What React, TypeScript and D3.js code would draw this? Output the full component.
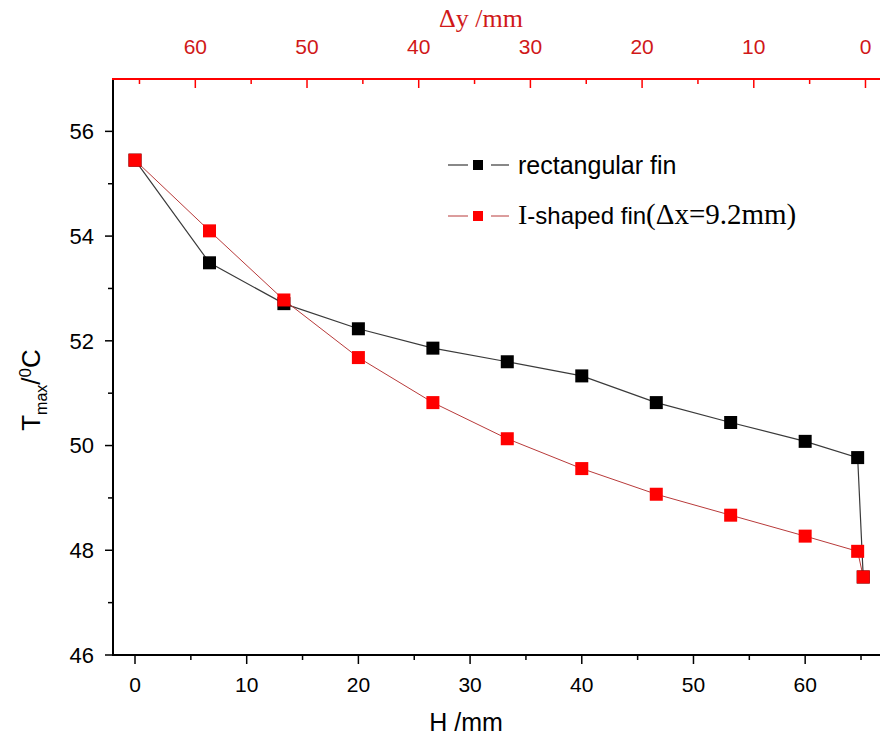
import React from "react";
import * as d3 from "d3";

const hValues = [0, 6.67, 13.33, 20, 26.67, 33.33, 40, 46.67, 53.33, 60, 64.7, 65.2];
const rectFin = [55.45, 53.49, 52.71, 52.23, 51.86, 51.6, 51.33, 50.82, 50.44, 50.08, 49.77, 47.49];
const iFin = [55.45, 54.1, 52.78, 51.68, 50.82, 50.13, 49.56, 49.07, 48.67, 48.27, 47.98, 47.49];
const bottomTicks = [0, 10, 20, 30, 40, 50, 60];
const bottomMinor = [5, 15, 25, 35, 45, 55, 65];
const topTicks = [60, 50, 40, 30, 20, 10, 0];
const topMinor = [65, 55, 45, 35, 25, 15, 5];
const leftTicks = [46, 48, 50, 52, 54, 56];
const leftMinor = [47, 49, 51, 53, 55];
const H_TOTAL = 65.4;

const W = 880, HGT = 740;
const L = 113, R = 880, T = 79, B = 655;

export default function App() {
  const x = d3.scaleLinear().domain([-1.97, 66.7]).range([L, R]);
  const xt = d3.scaleLinear().domain([H_TOTAL + 1.97, H_TOTAL - 66.7]).range([L, R]);
  const y = d3.scaleLinear().domain([46, 57]).range([B, T]);
  const line = d3.line<number>().x((_, i) => x(hValues[i])).y((d) => y(d));
  const ms = 13;
  const lms = 10;
  const sans = "'Liberation Sans', Arial, sans-serif";
  const serif = "'Liberation Serif', 'Times New Roman', serif";
  const red = "#ff0000";
  const redText = "#d01818";
  return (
    <svg width={W} height={HGT} style={{ position: "absolute", left: 0, top: 0, background: "#fff" }}>
      <rect width={W} height={HGT} fill="#fff" />
      {/* lines */}
      <path d={line(rectFin) || ""} fill="none" stroke="#3a3a3a" strokeWidth={1.2} />
      <path d={line(iFin) || ""} fill="none" stroke="#b83a3a" strokeWidth={1} />
      {rectFin.map((v, i) => (
        <rect key={"b" + i} x={x(hValues[i]) - ms / 2} y={y(v) - ms / 2} width={ms} height={ms} fill="#000" />
      ))}
      {iFin.map((v, i) => (
        <rect key={"r" + i} x={x(hValues[i]) - ms / 2} y={y(v) - ms / 2} width={ms} height={ms} fill={red} />
      ))}
      {/* left axis */}
      <line x1={L} x2={L} y1={T - 1} y2={B + 1} stroke="#000" strokeWidth={2} />
      {leftTicks.map((t) => (
        <g key={"lt" + t}>
          <line x1={L - 8} x2={L} y1={y(t)} y2={y(t)} stroke="#000" strokeWidth={1.5} />
          <text x={L - 19} y={y(t)} dy="0.36em" textAnchor="end" fontFamily={sans} fontSize={22}>{t}</text>
        </g>
      ))}
      {leftMinor.map((t) => (
        <line key={"lm" + t} x1={L - 5} x2={L} y1={y(t)} y2={y(t)} stroke="#000" strokeWidth={1.5} />
      ))}
      {/* bottom axis */}
      <line x1={L - 1} x2={R} y1={B} y2={B} stroke="#000" strokeWidth={2} />
      {bottomTicks.map((t) => (
        <g key={"bt" + t}>
          <line x1={x(t)} x2={x(t)} y1={B} y2={B + 9} stroke="#000" strokeWidth={1.5} />
          <text x={x(t)} y={B + 37} textAnchor="middle" fontFamily={sans} fontSize={21}>{t}</text>
        </g>
      ))}
      {bottomMinor.map((t) => (
        <line key={"bm" + t} x1={x(t)} x2={x(t)} y1={B} y2={B + 5} stroke="#000" strokeWidth={1.5} />
      ))}
      {/* top axis */}
      <line x1={L - 1} x2={R} y1={T} y2={T} stroke={red} strokeWidth={2} />
      {topTicks.map((t) => (
        <g key={"tt" + t}>
          <line x1={xt(t)} x2={xt(t)} y1={T} y2={T + 9} stroke={red} strokeWidth={1.5} />
          <text x={xt(t)} y={T - 25} textAnchor="middle" fontFamily={sans} fontSize={21} fill={redText}>{t}</text>
        </g>
      ))}
      {topMinor.map((t) => (
        <line key={"tm" + t} x1={xt(t)} x2={xt(t)} y1={T} y2={T + 5} stroke={red} strokeWidth={1.5} />
      ))}
      {/* axis titles */}
      <text x={466} y={731} textAnchor="middle" fontFamily={sans} fontSize={25}>H /mm</text>
      <text x={481} y={27} textAnchor="middle" fontFamily={serif} fontSize={26} fill={redText}>Δy /mm</text>
      <text transform="translate(40,390) rotate(-90)" textAnchor="middle" fontFamily={sans} fontSize={26}>
        T<tspan fontSize={16} dy={7}>max</tspan><tspan dy={-7}>/</tspan><tspan fontSize={17} dy={-9}>0</tspan><tspan dy={9}>C</tspan>
      </text>
      {/* legend */}
      <g>
        <line x1={448} x2={468} y1={165} y2={165} stroke="#3a3a3a" strokeWidth={1.2} />
        <line x1={491} x2={509} y1={165} y2={165} stroke="#3a3a3a" strokeWidth={1.2} />
        <rect x={478 - lms / 2} y={165 - lms / 2} width={lms} height={lms} fill="#000" />
        <text x={518} y={165} dy="0.35em" fontFamily={sans} fontSize={25}>rectangular fin</text>
        <line x1={448} x2={468} y1={216} y2={216} stroke="#b83a3a" strokeWidth={1} />
        <line x1={491} x2={509} y1={216} y2={216} stroke="#b83a3a" strokeWidth={1} />
        <rect x={478 - lms / 2} y={216 - lms / 2} width={lms} height={lms} fill={red} />
        <text x={518} y={216} dy="0.35em" fontFamily={sans} fontSize={24}>
          <tspan fontFamily={serif} fontSize={28}>I</tspan>-shaped fin<tspan fontFamily={serif} fontSize={29}>(Δx=9.2mm)</tspan>
        </text>
      </g>
    </svg>
  );
}
